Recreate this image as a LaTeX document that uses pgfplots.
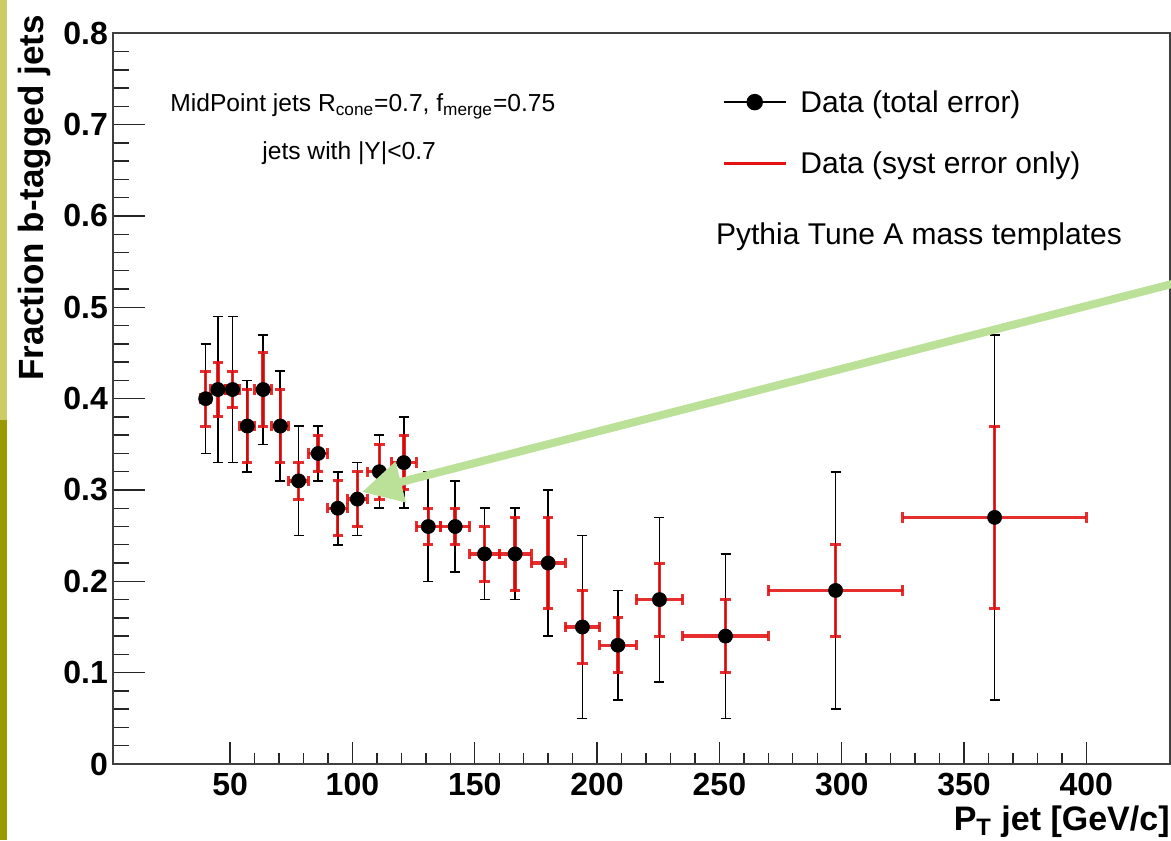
\documentclass[border=0pt]{standalone}
\usepackage{fontspec}
\setmainfont{Liberation Sans}
\usepackage{pgfplots}
\pgfplotsset{compat=1.18}
\usepackage{pgfplotstable}
\usetikzlibrary{arrows.meta}

\definecolor{rootred}{RGB}{228,18,18}
\definecolor{argreen}{RGB}{187,224,152}
\definecolor{barlight}{RGB}{204,204,102}
\definecolor{bardark}{RGB}{153,153,0}

\pgfplotstableread{
x     y     dx    et    es
40    0.40  2     0.06  0.03
45    0.41  3     0.08  0.03
51    0.41  3     0.08  0.02
57    0.37  3     0.05  0.04
63.5  0.41  3.5   0.06  0.04
70.5  0.37  3.5   0.06  0.04
78    0.31  4     0.06  0.02
86    0.34  4     0.03  0.02
94    0.28  4     0.04  0.03
102   0.29  4     0.04  0.03
111   0.32  5     0.04  0.03
121   0.33  5     0.05  0.03
131   0.26  5     0.06  0.02
142   0.26  6     0.05  0.02
154   0.23  6     0.05  0.03
166.5 0.23  6.5   0.05  0.04
180   0.22  7     0.08  0.05
194   0.15  7     0.10  0.04
208.5 0.13  7.5   0.06  0.03
225.5 0.18  9.5   0.09  0.04
252.5 0.14  17.5  0.09  0.04
297.5 0.19  27.5  0.13  0.05
362.5 0.27  37.5  0.20  0.10
}\bdata

\begin{document}
\begin{tikzpicture}
\useasboundingbox (0,0) rectangle (585.5pt,420pt);
\fill[white] (0,0) rectangle (585.5pt,420pt);
\fill[barlight] (0,210pt) rectangle (3.65pt,420pt);
\fill[bardark] (0,0) rectangle (3.65pt,210pt);
\begin{axis}[
  at={(56.35pt,38pt)}, anchor=south west,
  scale only axis, width=528.4pt, height=365.35pt,
  xmin=2, xmax=434, ymin=0, ymax=0.8,
  xtick={50,100,150,200,250,300,350,400},
  ytick={0,0.1,0.2,0.3,0.4,0.5,0.6,0.7,0.8},
  minor x tick num=4, minor y tick num=4,
  tick pos=left, tick align=inside,
  major tick length=16pt, minor tick length=8pt,
  xtick style={/pgfplots/major tick length=11pt, /pgfplots/minor tick length=5.5pt},
  axis line style={black!75, line width=1pt},
  tick style={black!85, line width=0.7pt},
  /pgf/number format/assume math mode=true,
  ticklabel style={font=\fontsize{16}{16}\selectfont\bfseries},
  yticklabel style={anchor=east, inner sep=0pt, xshift=-2.2pt},
  xticklabel style={anchor=north, inner sep=0pt, yshift=-4.5pt},
  legend style={at={(0.5766,0.9269)}, anchor=north west, draw=none, fill=none,
    inner sep=0pt, row sep=15.8pt, font=\fontsize{15}{15}\selectfont,
    nodes={inner sep=0pt, text height=12.5pt, text depth=2.5pt}},
  legend cell align=left,
  legend image code/.code={\draw[mark repeat=2,mark phase=2,#1] plot coordinates {(0pt,0pt) (15.4pt,0pt) (30.8pt,0pt)};},
]
\addlegendimage{black, line width=0.75pt, mark=*, mark size=3.75pt}
\addlegendentry{\hspace*{6.7pt}Data (total error)}
\addlegendimage{rootred, line width=1.5pt}
\addlegendentry{\hspace*{6.7pt}Data (syst error only)}

\addplot[forget plot, only marks, mark=*, mark size=3.5pt, black,
  error bars/.cd, y dir=both, y explicit,
  error bar style={line width=0.8pt, black},
  error mark=-,
  error mark options={rotate=90, black, line width=0.8pt, mark size=2.5pt}]
  table[x=x, y=y, y error=et] {\bdata};
\addplot[forget plot, draw=none, mark=none,
  error bars/.cd, x dir=both, x explicit, y dir=both, y explicit,
  error bar style={line width=1.7pt, draw=rootred, opacity=0.88},
  error mark=-,
  error mark options={rotate=90, draw=rootred, line width=1.5pt, mark size=2.6pt, opacity=0.88}]
  table[x=x, y=y, x error=dx, y error=es] {\bdata};
\end{axis}
\node[rotate=90, anchor=base east, font=\fontsize{17.5}{17.5}\selectfont\bfseries, inner sep=0pt] at (21.5pt,412.5pt) {Fraction b-tagged jets};
\node[anchor=base east, font=\fontsize{17}{17}\selectfont\bfseries, inner sep=0pt] at (585pt,5pt) {P\textsubscript{T} jet [GeV/c]};
\node[anchor=base west, font=\fontsize{12.3}{14}\selectfont, inner sep=0pt] at (85pt,364.15pt) {MidPoint jets R\textsubscript{cone}=0.7, f\textsubscript{merge}=0.75};
\node[anchor=base west, font=\fontsize{12.3}{14}\selectfont, inner sep=0pt] at (131pt,340pt) {jets with |Y|<0.7};
\node[anchor=base west, font=\fontsize{15}{15}\selectfont, inner sep=0pt] at (357.85pt,297.5pt) {Pythia Tune A mass templates};
\draw[argreen, line width=4pt, -{Triangle[length=20pt,width=20pt]}] (588pt,278.5pt) -- (181pt,174pt);
\end{tikzpicture}
\end{document}
